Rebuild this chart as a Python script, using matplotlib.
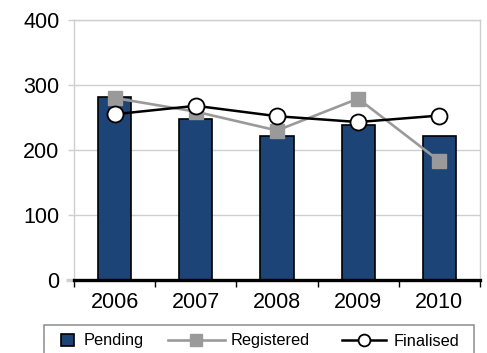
import matplotlib
matplotlib.use("Agg")
import matplotlib.pyplot as plt
from matplotlib.patches import Rectangle
import numpy as np

plt.rcParams['font.family'] = ['Liberation Sans', 'DejaVu Sans']

years = ["2006", "2007", "2008", "2009", "2010"]
pending = [281, 248, 221, 238, 221]
registered = [280, 259, 230, 279, 183]
finalised = [255, 268, 252, 243, 253]
y_ticks = [0, 100, 200, 300, 400]

navy = "#1D4477"
grey = "#9A9A9A"
grid_grey = "#CFCFCF"

W, H = 487, 353
fig = plt.figure(figsize=(W / 100, H / 100), dpi=100)
ax = fig.add_axes([74 / W, 1 - 280 / H, 406 / W, 260 / H])

x = np.arange(len(years)) + 0.5

bars = ax.bar(x, pending, width=0.41, color=navy, edgecolor="black",
              linewidth=1.2, zorder=3, label="Pending")
reg_line, = ax.plot(x, registered, color=grey, lw=1.9, marker="s",
                    markersize=10, markerfacecolor=grey, markeredgecolor=grey,
                    zorder=4, label="Registered")
fin_line, = ax.plot(x, finalised, color="black", lw=1.8, marker="o",
                    markersize=11.5, markerfacecolor="white",
                    markeredgecolor="black", markeredgewidth=1.3,
                    zorder=5, label="Finalised")

ax.set_xlim(0, len(years))
ax.set_ylim(0, 400)

# category boundaries as tick marks, labels centred between them
ax.set_xticks(np.arange(len(years) + 1))
ax.set_xticklabels([])
ax.set_xticks(x, minor=True)
ax.set_xticklabels(years, minor=True, fontsize=15.5)
ax.tick_params(axis="x", which="major", direction="out", length=4.8,
               width=1, color="black")
ax.tick_params(axis="x", which="minor", length=0, pad=9)

ax.set_yticks(y_ticks)
ax.set_yticklabels([str(v) for v in y_ticks], fontsize=15.5)
ax.tick_params(axis="y", direction="out", length=4.5, width=1,
               color=grid_grey, pad=6)
t0 = ax.yaxis.get_major_ticks()[0]
t0.tick1line.set_color("black")
t0.tick1line.set_markeredgewidth(2.4)
t0.tick1line.set_markersize(5.5)

ax.grid(axis="y", color=grid_grey, lw=1, zorder=0)
ax.set_axisbelow(True)
for side in ("left", "right", "top"):
    ax.spines[side].set_color(grid_grey)
    ax.spines[side].set_linewidth(1)
ax.spines["bottom"].set_color("black")
ax.spines["bottom"].set_linewidth(2.4)
ax.spines["bottom"].set_zorder(6)

# legend frame running off the bottom edge
frame = Rectangle((44 / W, -0.05), (474 - 44) / W, (1 - 325 / H) + 0.05,
                  transform=fig.transFigure, facecolor="none",
                  edgecolor="#8C8C8C", lw=1.1, clip_on=False)
fig.patches.append(frame)

fs = 11.8
ly = 1 - 341 / H
entries = [
    (bars, "Pending", 61 / W, 0.8, 0.6, 1.0),
    (reg_line, "Registered", 168 / W, 3.45, 0.36, 0.92),
    (fin_line, "Finalised", 342 / W, 2.7, 0.48, 0.74),
]
for handle, label, lx, hl, tp, ms in entries:
    fig.legend([handle], [label], loc="center left",
               bbox_to_anchor=(lx, ly), frameon=False, fontsize=fs,
               handlelength=hl, handleheight=0.75, handletextpad=tp,
               borderpad=0, borderaxespad=0, markerscale=ms)

fig.savefig("out.png", dpi=100)
